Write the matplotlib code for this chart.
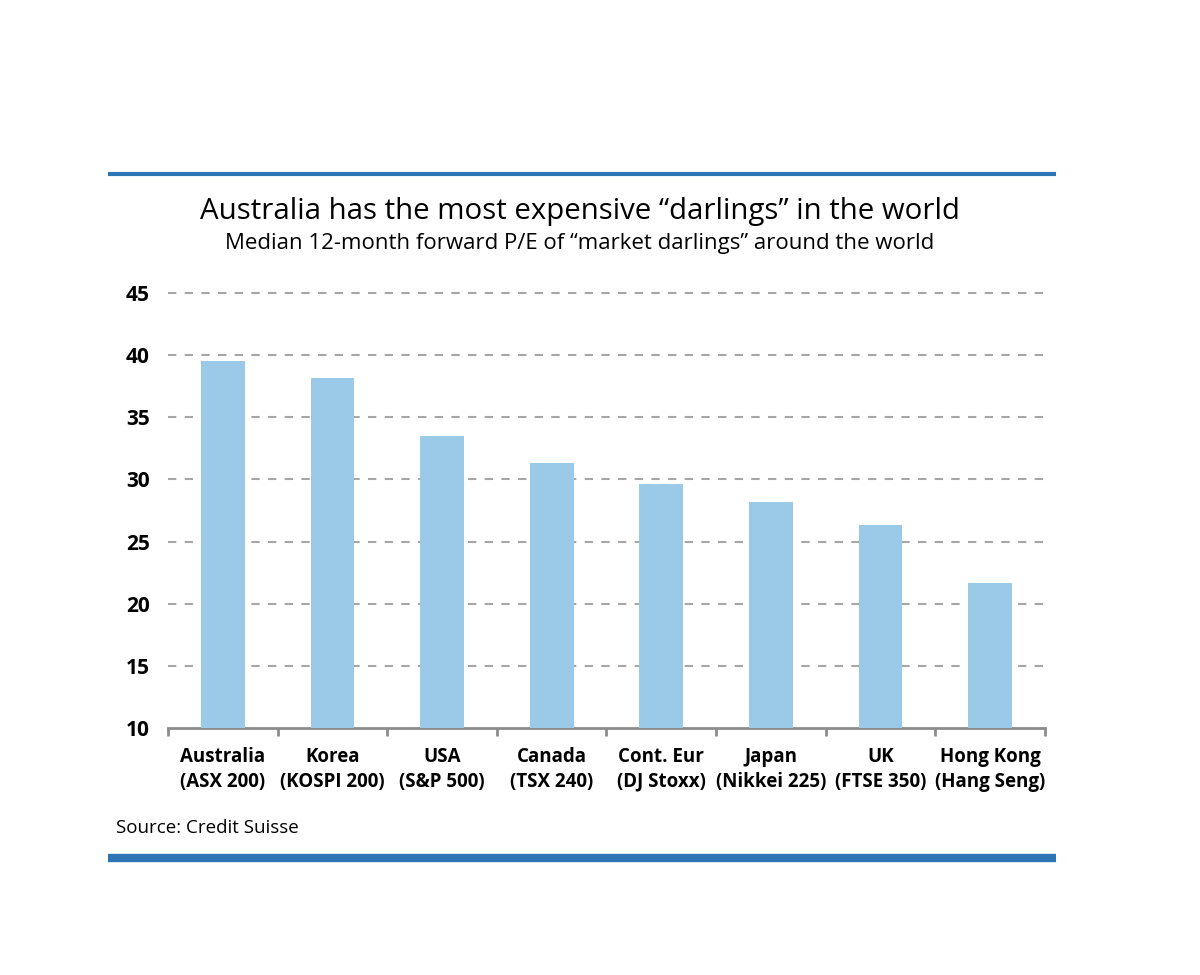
import matplotlib.pyplot as plt
from matplotlib.lines import Line2D

plt.rcParams['font.family'] = ['Open Sans', 'DejaVu Sans']

markets = ["Australia", "Korea", "USA", "Canada", "Cont. Eur", "Japan", "UK", "Hong Kong"]
indices = ["ASX 200", "KOSPI 200", "S&P 500", "TSX 240", "DJ Stoxx", "Nikkei 225", "FTSE 350", "Hang Seng"]
pe = [39.5, 38.15, 33.5, 31.3, 29.6, 28.2, 26.3, 21.7]
yticks = [10, 15, 20, 25, 30, 35, 40, 45]

fig = plt.figure(figsize=(12, 9.75), dpi=100)
ax = fig.add_axes([0.14, 0.2533, 0.7308, 0.4462])

x = range(len(markets))
ax.bar(x, [v - 10 for v in pe], bottom=10, width=0.4, color="#9BC9E8", zorder=3)

ax.set_xlim(-0.5, len(markets) - 0.5)
ax.set_ylim(10, 45)
ax.set_yticks(yticks)
ax.set_yticklabels([str(t) for t in yticks], fontsize=15, fontweight="bold")
for t in yticks[1:]:
    ax.axhline(t, color="#A6A6A6", lw=1.5, ls=(0, (4, 4)), zorder=1, clip_on=False)

ax.set_xticks(list(x))
ax.set_xticklabels([f"{m}\n({i})" for m, i in zip(markets, indices)],
                   fontsize=13.5, fontweight="bold", linespacing=1.3)
ax.tick_params(axis="x", length=0, pad=14)
ax.tick_params(axis="y", length=0, pad=13)
ax.set_xticks([i - 0.5 for i in range(len(markets) + 1)], minor=True)
ax.tick_params(axis="x", which="minor", length=6, width=2, color="#8C8C8C")

for s in ["left", "right", "top"]:
    ax.spines[s].set_visible(False)
ax.spines["bottom"].set_color("#8C8C8C")
ax.spines["bottom"].set_linewidth(2)

fig.add_artist(Line2D([0.09, 0.88], [1 - 174 / 975] * 2, color="#2E75B6", lw=3,
                      solid_capstyle="butt"))
fig.add_artist(Line2D([0.09, 0.88], [1 - 858 / 975] * 2, color="#2E75B6", lw=6,
                      solid_capstyle="butt"))

fig.text(0.483, 1 - 211 / 975, "Australia has the most expensive \u201cdarlings\u201d in the world",
         ha="center", va="center", fontsize=21.2)
fig.text(0.483, 1 - 243 / 975, "Median 12-month forward P/E of \u201cmarket darlings\u201d around the world",
         ha="center", va="center", fontsize=16)
fig.text(0.097, 1 - 828 / 975, "Source: Credit Suisse", ha="left", va="center", fontsize=13.5)

fig.savefig("out.png")
